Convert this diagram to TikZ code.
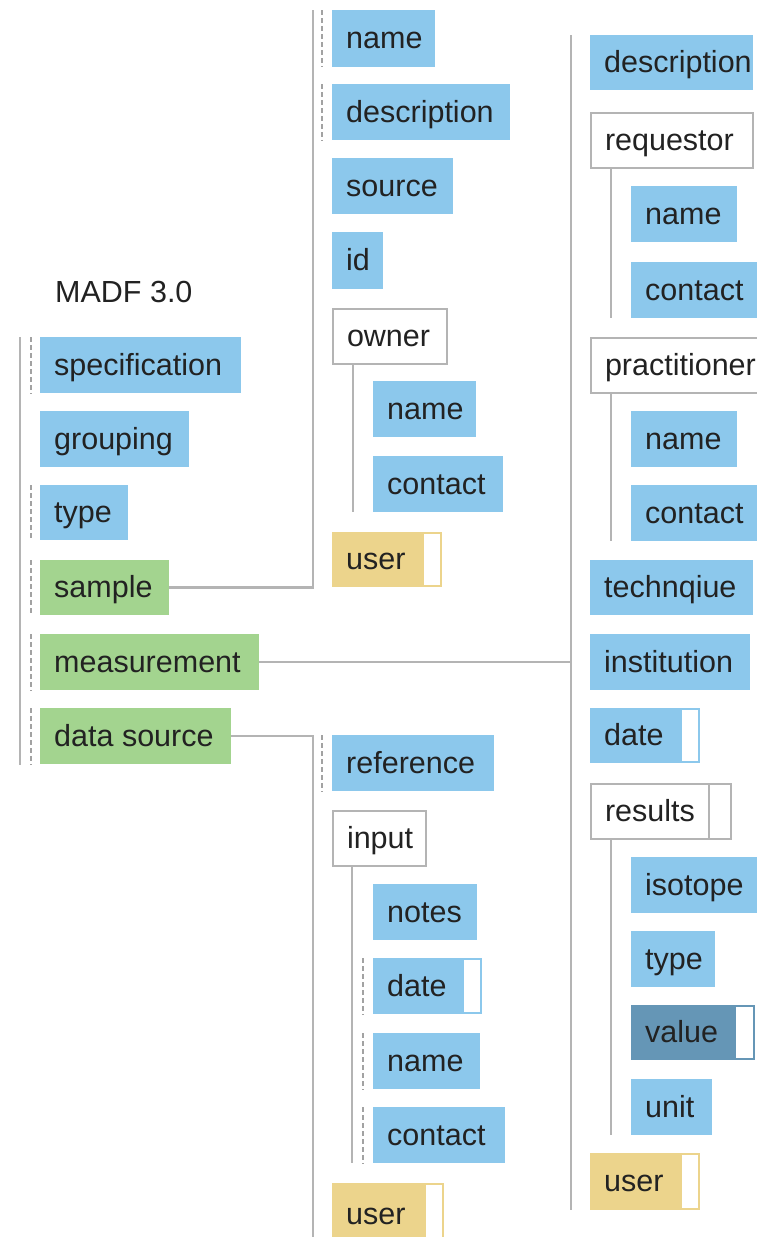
\documentclass[tikz,border=0pt]{standalone}
\usepackage{fontspec}
\setmainfont{Liberation Sans}
\definecolor{blu}{HTML}{8CC8EC}
\definecolor{grn}{HTML}{A3D48F}
\definecolor{ylw}{HTML}{ECD48C}
\definecolor{dkb}{HTML}{6596B6}
\definecolor{gry}{HTML}{B4B4B4}
\definecolor{txt}{HTML}{222222}
\newcommand\bx[7]{%
  \pgfmathsetmacro\bxw{#5-#3-28}\pgfmathsetmacro\bxh{#6-#4}%
  \node[#2, anchor=north west, inner xsep=0pt, inner ysep=0pt,
        minimum height=\bxh pt, text height=24pt, text depth=4pt]
        (#1) at (#3,#4) {\hspace*{14pt}\makebox[\bxw pt][l]{#7}\hspace*{14pt}};}
\newcommand\flag[5]{% color x1 y1 x2 y2
  \path[fill=white, draw=#1, line width=2pt] (#2+1,#3+1) rectangle (#4-1,#5-1);}
\begin{document}
\begin{tikzpicture}[x=1pt,y=-1pt, font=\fontsize{30.5}{35}\selectfont, text=txt,
  bbox/.style={fill=blu},
  gbox/.style={fill=grn},
  ybox/.style={fill=ylw},
  dbox/.style={fill=dkb},
  wbox/.style={fill=white, draw=gry, line width=2pt},
  trunk/.style={draw=gry, line width=2.5pt},
  dline/.style={draw=gry!90!black, line width=2pt, dash pattern=on 5pt off 3pt}]
\useasboundingbox (0,0) rectangle (757,1237);
\fill[white] (0,0) rectangle (757,1237);

\node[anchor=base west, inner sep=0pt] (title) at (55,302) {MADF 3.0};

% left column
\bx{spec}{bbox}{40}{337}{241}{393}{specification}
\bx{grp}{bbox}{40}{411}{189}{467}{grouping}
\bx{typ}{bbox}{40}{485}{128}{540}{type}
\bx{sample}{gbox}{40}{560}{169}{615}{sample}
\bx{meas}{gbox}{40}{634}{259}{690}{measurement}
\bx{ds}{gbox}{40}{708}{231}{764}{data source}
\coordinate (lt1) at (20,337);
\coordinate (lt2) at (20,765);
\draw[trunk] (lt1) -- (lt2);
\foreach \n in {spec,typ,sample,meas,ds}
  \draw[dline] ([xshift=-9pt]\n.north west) -- ([xshift=-9pt]\n.south west);

% sample children
\bx{sname}{bbox}{332}{10}{435}{67}{name}
\bx{sdesc}{bbox}{332}{84}{510}{140}{description}
\bx{ssrc}{bbox}{332}{158}{453}{214}{source}
\bx{sid}{bbox}{332}{232}{383}{289}{id}
\bx{owner}{wbox}{332}{308}{446}{363}{owner}
\bx{oname}{bbox}{373}{381}{476}{437}{name}
\bx{ocont}{bbox}{373}{456}{503}{512}{contact}
\bx{suser}{ybox}{332}{532}{442}{587}{user}
\flag{ylw}{422}{532}{442}{587}
\coordinate (st) at (313,10);
\draw[trunk] (sample.east) -| (st);
\foreach \n in {sname,sdesc}
  \draw[dline] ([xshift=-10pt]\n.north west) -- ([xshift=-10pt]\n.south west);
\draw[trunk] ([xshift=21pt]owner.south west) -- ([xshift=21pt]owner.south west |- ocont.south);

% data source children
\bx{ref}{bbox}{332}{735}{494}{791}{reference}
\bx{input}{wbox}{332}{810}{425}{865}{input}
\bx{inotes}{bbox}{373}{884}{477}{940}{notes}
\bx{idate}{bbox}{373}{958}{482}{1014}{date}
\flag{blu}{462}{958}{482}{1014}
\bx{iname}{bbox}{373}{1033}{480}{1089}{name}
\bx{icont}{bbox}{373}{1107}{505}{1163}{contact}
\bx{duser}{ybox}{332}{1183}{444}{1245}{user}
\flag{ylw}{424}{1183}{444}{1245}
\coordinate (dt) at (313,1240);
\draw[trunk] (ds.east) -| (dt);
\draw[dline] ([xshift=-10pt]ref.north west) -- ([xshift=-10pt]ref.south west);
\draw[trunk] ([xshift=20pt]input.south west) -- ([xshift=20pt]input.south west |- icont.south);
\foreach \n in {idate,iname,icont}
  \draw[dline] ([xshift=-10pt]\n.north west) -- ([xshift=-10pt]\n.south west);

% measurement children
\bx{mdesc}{bbox}{590}{35}{753}{90}{description}
\bx{req}{wbox}{590}{112}{752}{167}{requestor}
\bx{rname}{bbox}{631}{186}{737}{242}{name}
\bx{rcont}{bbox}{631}{262}{770}{318}{contact}
\bx{prac}{wbox}{590}{337}{775}{392}{practitioner}
\bx{pname}{bbox}{631}{411}{737}{467}{name}
\bx{pcont}{bbox}{631}{485}{770}{541}{contact}
\bx{tech}{bbox}{590}{560}{753}{615}{technqiue}
\bx{inst}{bbox}{590}{634}{750}{690}{institution}
\bx{mdate}{bbox}{590}{708}{700}{763}{date}
\flag{blu}{680}{708}{700}{763}
\bx{res}{wbox}{590}{783}{730}{838}{results}
\coordinate (rs1) at (709,783);
\coordinate (rs2) at (709,838);
\draw[draw=gry, line width=2pt] (rs1) -- (rs2);
\bx{iso}{bbox}{631}{857}{770}{913}{isotope}
\bx{rtype}{bbox}{631}{931}{715}{987}{type}
\bx{val}{dbox}{631}{1005}{755}{1060}{value}
\flag{dkb}{734}{1005}{755}{1060}
\bx{unit}{bbox}{631}{1079}{712}{1135}{unit}
\bx{muser}{ybox}{590}{1153}{700}{1210}{user}
\flag{ylw}{680}{1153}{700}{1210}
\coordinate (mt1) at (571,35);
\coordinate (mt2) at (571,1210);
\draw[trunk] (mt1) -- (mt2);
\draw[trunk] (meas.east) -- (meas.east -| mt1);
\draw[trunk] ([xshift=21pt]req.south west) -- ([xshift=21pt]req.south west |- rcont.south);
\draw[trunk] ([xshift=21pt]prac.south west) -- ([xshift=21pt]prac.south west |- pcont.south);
\draw[trunk] ([xshift=21pt]res.south west) -- ([xshift=21pt]res.south west |- unit.south);
\end{tikzpicture}
\end{document}
